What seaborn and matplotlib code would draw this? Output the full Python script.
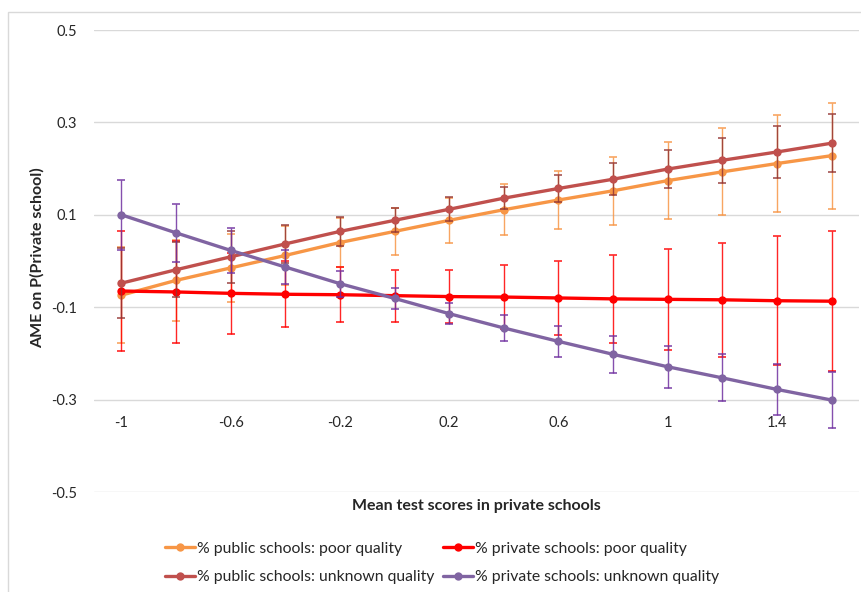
import numpy as np
import pandas as pd
import matplotlib
matplotlib.use("Agg")
import matplotlib.pyplot as plt
import seaborn as sns

# values
x_vals = [-1, -0.8, -0.6, -0.4, -0.2, 0, 0.2, 0.4, 0.6, 0.8, 1, 1.2, 1.4, 1.6]
x_ticks = [-1, -0.6, -0.2, 0.2, 0.6, 1, 1.4]
x_tick_labels = ["-1", "-0.6", "-0.2", "0.2", "0.6", "1", "1.4"]
y_ticks = [0.5, 0.3, 0.1, -0.1, -0.3, -0.5]

pub_poor = [-0.074, -0.042, -0.015, 0.012, 0.040, 0.064, 0.088, 0.111, 0.132, 0.152, 0.174, 0.193, 0.211, 0.228]
pub_poor_err = [0.104, 0.088, 0.074, 0.063, 0.054, 0.050, 0.049, 0.055, 0.063, 0.073, 0.084, 0.094, 0.105, 0.115]

priv_poor = [-0.065, -0.067, -0.070, -0.072, -0.073, -0.075, -0.077, -0.078, -0.080, -0.082, -0.083, -0.084, -0.086, -0.087]
priv_poor_err = [0.130, 0.110, 0.088, 0.071, 0.060, 0.056, 0.058, 0.070, 0.081, 0.095, 0.109, 0.124, 0.140, 0.152]

pub_unk = [-0.048, -0.019, 0.009, 0.037, 0.064, 0.088, 0.112, 0.136, 0.157, 0.177, 0.199, 0.218, 0.236, 0.255]
pub_unk_err = [0.076, 0.060, 0.057, 0.042, 0.031, 0.026, 0.026, 0.024, 0.029, 0.035, 0.042, 0.049, 0.056, 0.063]

priv_unk = [0.100, 0.061, 0.023, -0.013, -0.049, -0.081, -0.114, -0.145, -0.174, -0.202, -0.229, -0.253, -0.278, -0.301]
priv_unk_err = [0.076, 0.063, 0.049, 0.036, 0.028, 0.023, 0.023, 0.028, 0.034, 0.040, 0.046, 0.051, 0.056, 0.061]

names = ["% public schools: poor quality", "% private schools: poor quality",
         "% public schools: unknown quality", "% private schools: unknown quality"]
colors = ["#F79646", "#FF0000", "#C0504D", "#8064A2"]
err_colors = ["#F79646", "#FF0000", "#943634", "#7030A0"]

series = [pub_poor, priv_poor, pub_unk, priv_unk]
errors = [pub_poor_err, priv_poor_err, pub_unk_err, priv_unk_err]

df = pd.concat([pd.DataFrame({"x": x_vals, "y": s, "series": n}) for s, n in zip(series, names)])

sns.set_style("white")
plt.rcParams["font.family"] = ["Lato", "DejaVu Sans"]

fig = plt.figure(figsize=(8.61, 5.92), dpi=100)
ax = fig.add_axes([94 / 861, 1 - 492 / 592, (859 - 94) / 861, (492 - 30) / 592])

# error bars first, then lines on top
for i, (s, e) in enumerate(zip(series, errors)):
    ax.errorbar(x_vals, s, yerr=e, fmt="none", ecolor=err_colors[i], elinewidth=1,
                capsize=3, capthick=1.2, alpha=0.85, zorder=2 + i * 2)

for i, n in enumerate(names):
    sns.lineplot(data=df[df["series"] == n], x="x", y="y", color=colors[i], lw=2.4,
                 marker="o", markersize=6, markeredgewidth=0, ax=ax, label=n,
                 zorder=3 + i * 2)

ax.set_xlim(-1.1, 1.7)
ax.set_ylim(-0.5, 0.5)
ax.set_yticks(y_ticks)
ax.set_yticklabels(["0.5", "0.3", "0.1", "-0.1", "-0.3", "-0.5"])
ax.set_xticks(x_ticks)
ax.set_xticklabels(x_tick_labels)
ax.grid(axis="y", color="#D9D9D9", lw=1)
ax.grid(axis="x", visible=False)
for side in ["top", "right", "left"]:
    ax.spines[side].set_visible(False)
ax.spines["bottom"].set_position(("data", -0.3))
ax.spines["bottom"].set_visible(False)
ax.tick_params(axis="x", length=0, pad=12, labelsize=10.5, colors="#262626")
ax.tick_params(axis="y", length=0, pad=12, labelsize=10.5, colors="#262626")
ax.set_xlabel("")
ax.set_ylabel("")

fig.text(37 / 861, 1 - 258 / 592, "AME on P(Private school)", rotation=90, fontsize=11.5,
         fontweight="bold", ha="center", va="center", color="#262626")
fig.text(476 / 861, 1 - 506 / 592, "Mean test scores in private schools", fontsize=11.5,
         fontweight="bold", ha="center", va="center", color="#262626")

h, l = ax.get_legend_handles_labels()
order = [0, 2, 1, 3]
ax.legend([h[k] for k in order], [l[k] for k in order], ncol=2, frameon=False,
          loc="center left", bbox_to_anchor=(165 / 861, 1 - 563 / 592),
          bbox_transform=fig.transFigure, fontsize=11.3, handlelength=1.9,
          handletextpad=0.15, columnspacing=0.55, labelspacing=0.9,
          borderpad=0, borderaxespad=0)

fig.add_artist(plt.Rectangle((8 / 861, -0.01), 1.0, 1 - 12 / 592 + 0.01, transform=fig.transFigure,
                             fill=False, edgecolor="#D9D9D9", lw=1))

fig.savefig("out.png", dpi=100)
